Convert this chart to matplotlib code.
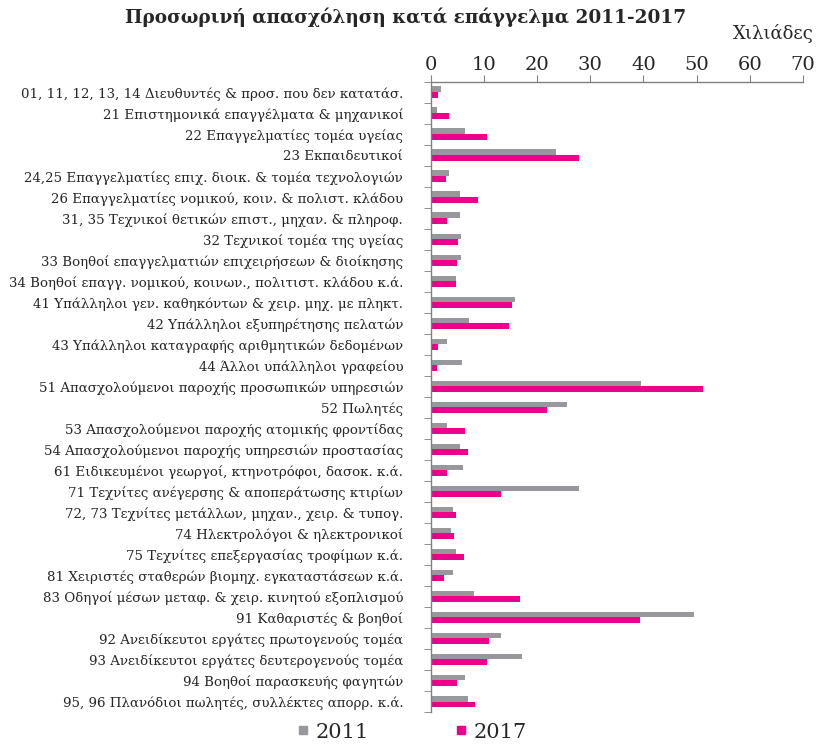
import matplotlib
matplotlib.use("Agg")
import matplotlib.pyplot as plt
from matplotlib.lines import Line2D
import numpy as np

# Occupation categories (top to bottom)
categories = [
    "01, 11, 12, 13, 14 Διευθυντές & προσ. που δεν κατατάσ.",
    "21 Επιστημονικά επαγγέλματα & μηχανικοί",
    "22 Επαγγελματίες τομέα υγείας",
    "23 Εκπαιδευτικοί",
    "24,25 Επαγγελματίες επιχ. διοικ. & τομέα τεχνολογιών",
    "26 Επαγγελματίες νομικού, κοιν. & πολιστ. κλάδου",
    "31, 35 Τεχνικοί θετικών επιστ., μηχαν. & πληροφ.",
    "32 Τεχνικοί τομέα της υγείας",
    "33 Βοηθοί επαγγελματιών επιχειρήσεων & διοίκησης",
    "34 Βοηθοί επαγγ. νομικού, κοινων., πολιτιστ. κλάδου κ.ά.",
    "41 Υπάλληλοι γεν. καθηκόντων & χειρ. μηχ. με πληκτ.",
    "42 Υπάλληλοι εξυπηρέτησης πελατών",
    "43 Υπάλληλοι καταγραφής αριθμητικών δεδομένων",
    "44 Άλλοι υπάλληλοι γραφείου",
    "51 Απασχολούμενοι παροχής προσωπικών υπηρεσιών",
    "52 Πωλητές",
    "53 Απασχολούμενοι παροχής ατομικής φροντίδας",
    "54 Απασχολούμενοι παροχής υπηρεσιών προστασίας",
    "61 Ειδικευμένοι γεωργοί, κτηνοτρόφοι, δασοκ. κ.ά.",
    "71 Τεχνίτες ανέγερσης & αποπεράτωσης κτιρίων",
    "72, 73 Τεχνίτες μετάλλων, μηχαν., χειρ. & τυπογ.",
    "74 Ηλεκτρολόγοι & ηλεκτρονικοί",
    "75 Τεχνίτες επεξεργασίας τροφίμων κ.ά.",
    "81 Χειριστές σταθερών βιομηχ. εγκαταστάσεων κ.ά.",
    "83 Οδηγοί μέσων μεταφ. & χειρ. κινητού εξοπλισμού",
    "91 Καθαριστές & βοηθοί",
    "92 Ανειδίκευτοι εργάτες πρωτογενούς τομέα",
    "93 Ανειδίκευτοι εργάτες δευτερογενούς τομέα",
    "94 Βοηθοί παρασκευής φαγητών",
    "95, 96 Πλανόδιοι πωλητές, συλλέκτες απορρ. κ.ά.",
]

# Thousands of temporary employees
vals_2011 = [1.8, 1.1, 6.4, 23.5, 3.4, 5.5, 5.5, 5.6, 5.6, 4.7,
             15.8, 7.2, 3.0, 5.8, 39.5, 25.6, 3.0, 5.5, 6.0, 27.9,
             4.1, 3.8, 4.7, 4.1, 8.1, 49.5, 13.2, 17.1, 6.4, 7.0]
vals_2017 = [1.3, 3.4, 10.5, 27.9, 2.8, 8.9, 3.0, 5.1, 4.9, 4.7,
             15.3, 14.7, 1.3, 1.1, 51.2, 21.8, 6.4, 7.0, 3.0, 13.2,
             4.7, 4.3, 6.2, 2.4, 16.8, 39.4, 10.9, 10.5, 4.9, 8.3]

x_ticks = [0, 10, 20, 30, 40, 50, 60, 70]

gray = "#98989c"
pink = "#ec008c"
font = "DejaVu Serif"
txt = "#262626"

fig = plt.figure(figsize=(8.2, 7.44), dpi=100)
ax = fig.add_axes([0.5256, 0.043, 0.4535, 0.847])

y = np.arange(len(categories))
h = 0.28
ax.barh(y - h / 2, vals_2011, height=h, color=gray, label="2011")
ax.barh(y + h / 2, vals_2017, height=h, color=pink, label="2017")

ax.set_ylim(len(categories) - 0.5, -0.5)
ax.set_xlim(0, 70)

# x axis on top
ax.xaxis.tick_top()
ax.set_xticks(x_ticks)
ax.set_xticklabels([str(t) for t in x_ticks], fontfamily=font, fontsize=14, color=txt)
ax.tick_params(axis="x", direction="out", length=5, color="#808080", pad=1)

# category labels with boundary ticks
ax.set_yticks(y)
ax.set_yticklabels(categories, fontfamily=font, fontsize=9.6, color=txt)
ax.tick_params(axis="y", which="major", length=0, pad=20)
ax.set_yticks(np.arange(-0.5, len(categories)), minor=True)
ax.tick_params(axis="y", which="minor", length=5, color="#808080", direction="out")

for s in ["right", "bottom"]:
    ax.spines[s].set_visible(False)
for s in ["top", "left"]:
    ax.spines[s].set_color("#808080")
    ax.spines[s].set_linewidth(1.0)

fig.text(0.494, 0.977, "Προσωρινή απασχόληση κατά επάγγελμα 2011-2017",
         ha="center", va="center", fontfamily=font, fontsize=13.3,
         fontweight="bold", color=txt)
fig.text(0.943, 0.955, "Χιλιάδες", ha="center", va="center",
         fontfamily=font, fontsize=13, color=txt)

handles = [Line2D([], [], marker="s", linestyle="none", color=gray, markersize=5.5),
           Line2D([], [], marker="s", linestyle="none", color=pink, markersize=5.5)]
fig.legend(handles, ["2011", "2017"], loc="center", bbox_to_anchor=(0.501, 0.016),
           ncol=2, frameon=False, prop={"family": font, "size": 15},
           labelcolor=txt, handlelength=0.8, handletextpad=0.2, columnspacing=4.0)

fig.savefig("out.png", dpi=100)
